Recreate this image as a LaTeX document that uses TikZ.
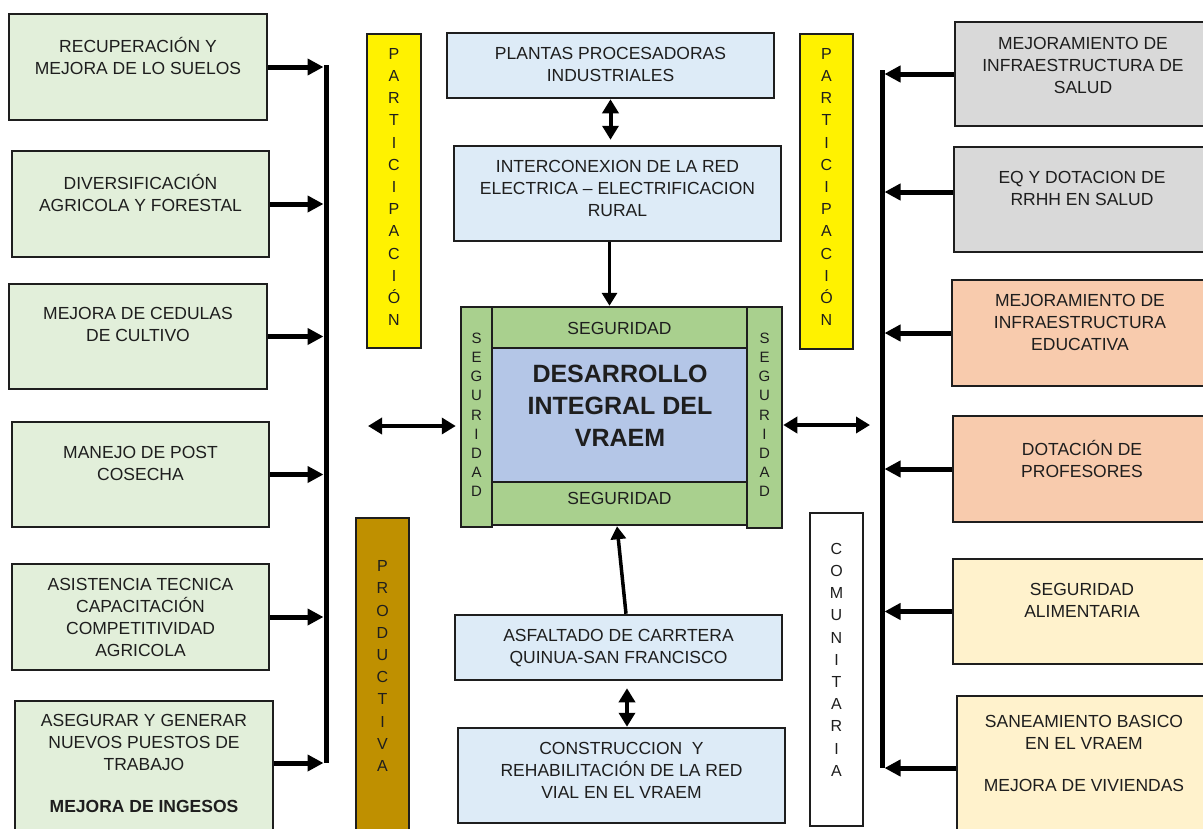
\documentclass[tikz,border=0pt]{standalone}
\usepackage{fontspec}
\setmainfont{Liberation Sans}
\usetikzlibrary{arrows.meta,calc,fit}
\definecolor{lgreen}{HTML}{E2EFDA}
\definecolor{lblue}{HTML}{DDEBF7}
\definecolor{lgray}{HTML}{D9D9D9}
\definecolor{salmon}{HTML}{F8CBAD}
\definecolor{cream}{HTML}{FFF2CC}
\definecolor{bandgreen}{HTML}{A9D08E}
\definecolor{coreblue}{HTML}{B4C6E7}
\definecolor{prodbrown}{HTML}{BF9000}
\definecolor{ink}{HTML}{1E1E1E}
\begin{document}
\begin{tikzpicture}[x=1pt,y=-1pt,
  box/.style={draw=ink, line width=2.5pt, inner sep=0pt},
  txt/.style={align=center, inner sep=0pt, anchor=north, text=ink, font=\fontsize{17.5}{22}\selectfont, execute at begin node=\strut},
  one/.style={inner sep=0pt, anchor=center, text=ink, font=\fontsize{17.5}{22}\selectfont},
  ttxt/.style={txt, font=\fontsize{25}{32}\selectfont\bfseries},
  vtxt/.style={txt, font=\fontsize{16}{22.2}\selectfont},
  stxt/.style={txt, font=\fontsize{15}{19.1}\selectfont},
  arr/.style={line width=5pt, -{Triangle[length=16pt,width=16pt]}},
  varr/.style={line width=3.5pt, -{Triangle[length=13pt,width=15pt]}},
  darr/.style={line width=4pt, {Triangle[length=14pt,width=16pt]}-{Triangle[length=14pt,width=16pt]}},
  vline/.style={line width=5pt},
]
\useasboundingbox (0,0) rectangle (1203,828);

% ---------- left column ----------
\node[box, fill=lgreen, fit={(9,14)(267,120)}] (l1) {};
\node[txt] (l1t) at (138,37) {RECUPERACIÓN Y\\MEJORA DE LO SUELOS};
\node[box, fill=lgreen, fit={(12,151)(269,257)}] (l2) {};
\node[txt] (l2t) at (140.5,174) {DIVERSIFICACIÓN\\AGRICOLA Y FORESTAL};
\node[box, fill=lgreen, fit={(9,284)(267,389)}] (l3) {};
\node[txt] (l3t) at (138,307) {MEJORA DE CEDULAS\\DE CULTIVO};
\node[box, fill=lgreen, fit={(12,422)(269,527)}] (l4) {};
\node[txt] (l4t) at (140.5,446) {MANEJO DE POST\\COSECHA};
\node[box, fill=lgreen, fit={(12,564)(269,670)}] (l5) {};
\node[txt] (l5t) at (140.5,578) {ASISTENCIA TECNICA\\CAPACITACIÓN\\COMPETITIVIDAD\\AGRICOLA};
\node[box, fill=lgreen, fit={(15,701)(273,840)}] (l6) {};
\node[txt] (l6t) at (144,714) {ASEGURAR Y GENERAR\\NUEVOS PUESTOS DE\\TRABAJO\\[20pt]\textbf{MEJORA DE INGESOS}};

\coordinate (lbtop) at (326,65);
\coordinate (lbbot) at (326,763);
\draw[vline] (lbtop) -- (lbbot);
\draw[arr, shorten >=2.5pt] (l1.east) -- (l1.east -| lbtop);
\draw[arr, shorten >=2.5pt] (l2.east) -- (l2.east -| lbtop);
\draw[arr, shorten >=2.5pt] (l3.east) -- (l3.east -| lbtop);
\draw[arr, shorten >=2.5pt] (l4.east) -- (l4.east -| lbtop);
\draw[arr, shorten >=2.5pt] (l5.east) -- (l5.east -| lbtop);
\draw[arr, shorten >=2.5pt] (l6.east |- lbbot) -- (lbbot);

% ---------- right column ----------
\node[box, fill=lgray, fit={(955,22)(1212,126)}] (r1) {};
\node[txt] (r1t) at (1083,37) {MEJORAMIENTO DE\\INFRAESTRUCTURA DE\\SALUD};
\node[box, fill=lgray, fit={(954,147)(1212,252)}] (r2) {};
\node[txt] (r2t) at (1082,171) {EQ Y DOTACION DE\\RRHH EN SALUD};
\node[box, fill=salmon, fit={(952,280)(1212,386)}] (r3) {};
\node[txt] (r3t) at (1080,294) {MEJORAMIENTO DE\\INFRAESTRUCTURA\\EDUCATIVA};
\node[box, fill=salmon, fit={(953,416)(1212,522)}] (r4) {};
\node[txt] (r4t) at (1082,440) {DOTACIÓN DE\\PROFESORES};
\node[box, fill=cream, fit={(953,559)(1212,664)}] (r5) {};
\node[txt] (r5t) at (1082,583) {SEGURIDAD\\ALIMENTARIA};
\node[box, fill=cream, fit={(957,696)(1212,840)}] (r6) {};
\node[txt] (r6t) at (1084,715) {SANEAMIENTO BASICO\\EN EL VRAEM\\[20pt]MEJORA DE VIVIENDAS};

\coordinate (rbtop) at (882,70);
\coordinate (rbbot) at (882,768);
\draw[vline] (rbtop) -- (rbbot);
\draw[arr, shorten >=2.5pt] (r1.west) -- (r1.west -| rbtop);
\draw[arr, shorten >=2.5pt] ([yshift=7.5pt]r2.west) -- ([yshift=7.5pt]r2.west -| rbtop);
\draw[arr, shorten >=2.5pt] (r3.west) -- (r3.west -| rbtop);
\draw[arr, shorten >=2.5pt] (r4.west) -- (r4.west -| rbtop);
\draw[arr, shorten >=2.5pt] (r5.west) -- (r5.west -| rbtop);
\draw[arr, shorten >=2.5pt] (r6.west |- rbbot) -- (rbbot);

% ---------- vertical labels ----------
\node[box, fill=yellow, fit={(367,34)(421,348)}] (pl) {};
\node[vtxt] (plt) at (394,48) {P\\A\\R\\T\\I\\C\\I\\P\\A\\C\\I\\Ó\\N};
\node[box, fill=yellow, fit={(800,34)(853,349)}] (pr) {};
\node[vtxt] (prt) at (826.5,48) {P\\A\\R\\T\\I\\C\\I\\P\\A\\C\\I\\Ó\\N};
\node[box, fill=prodbrown, fit={(356,518)(409,840)}] (prod) {};
\node[vtxt] (prodt) at (382.5,560.5) {P\\R\\O\\D\\U\\C\\T\\I\\V\\A};
\node[box, fill=white, fit={(810,513)(863,826)}] (com) {};
\node[vtxt] (comt) at (836.5,543) {C\\O\\M\\U\\N\\I\\T\\A\\R\\I\\A};

% ---------- centre column ----------
\node[box, fill=lblue, fit={(447,33)(774,98)}] (plantas) {};
\node[txt] (plantast) at (610.5,47) {PLANTAS PROCESADORAS\\INDUSTRIALES};
\node[box, fill=lblue, fit={(454,146)(781,241)}] (inter) {};
\node[txt] (intert) at (617.5,160) {INTERCONEXION DE LA RED\\ELECTRICA – ELECTRIFICACION\\RURAL};
\node[box, fill=lblue, fit={(455,615)(782,680)}] (asf) {};
\node[txt] (asft) at (618.5,629) {ASFALTADO DE CARRTERA\\QUINUA-SAN FRANCISCO};
\node[box, fill=lblue, fit={(458,728)(785,823)}] (cons) {};
\node[txt] (const) at (621.5,742) {CONSTRUCCION\ \ Y\\REHABILITACIÓN DE LA RED\\VIAL EN EL VRAEM};

% central block
\node[box, fill=bandgreen, fit={(461,307)(492,527)}] (segL) {};
\node[box, fill=bandgreen, fit={(747,307)(782,528)}] (segR) {};
\node[box, fill=bandgreen, fit={(492,307)(747,348)}] (segT) {};
\node[box, fill=bandgreen, fit={(492,482)(747,525)}] (segB) {};
\node[box, fill=coreblue, fit={(492,348)(747,482)}] (core) {};
\node[one] (segTt) at (619.5,328) {SEGURIDAD};
\node[one] (segBt) at (619.5,498) {SEGURIDAD};
\node[ttxt] (coret) at (620,364.5) {DESARROLLO\\INTEGRAL DEL\\VRAEM};
\node[stxt] (segLt) at (476.5,333) {S\\E\\G\\U\\R\\I\\D\\A\\D};
\node[stxt] (segRt) at (764.5,333) {S\\E\\G\\U\\R\\I\\D\\A\\D};

% connectors
\draw[darr, shorten >=5pt] (plantas.south) -- (plantas.south |- inter.north);
\draw[varr] ([xshift=-8pt]inter.south) -- ([xshift=-8pt]inter.south |- segT.north);
\draw[varr] ([xshift=7.5pt]asf.north) -- ([xshift=-2.5pt]segB.south);
\draw[darr, shorten <=7pt] ([xshift=8.5pt]asf.south) -- ([xshift=8.5pt]asf.south |- cons.north);
\coordinate (la) at (368,426);
\draw[darr, shorten >=4pt] (la) -- (la -| segL.west);
\coordinate (ra) at (870,425);
\draw[darr] (segR.east |- ra) -- (ra);
\end{tikzpicture}
\end{document}
